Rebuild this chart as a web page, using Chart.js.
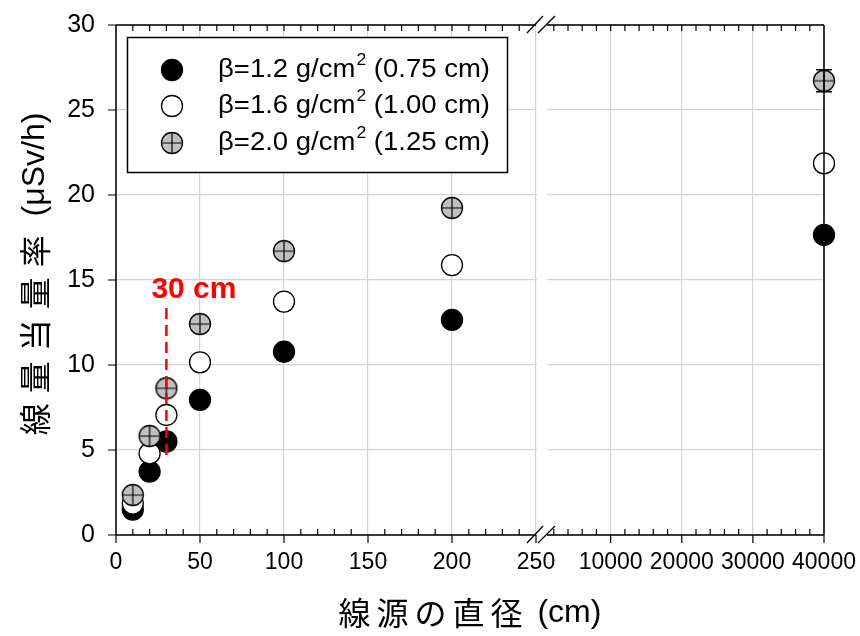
<!DOCTYPE html>
<html>
<head>
<meta charset="utf-8">
<script src="https://cdn.jsdelivr.net/npm/chart.js@4.4.1/dist/chart.umd.min.js"></script>
<style>
  html, body { margin: 0; padding: 0; background: #fff; }
  #wrap { width: 860px; height: 636px; }
</style>
</head>
<body>
<div id="wrap"><canvas id="chart"></canvas></div>
<script>
// source diameters (cm), left part of the broken axis
const diameters = [10, 20, 30, 50, 100, 200];
// right part of the broken axis
const farDiameters = [40000];

// dose equivalent rate (uSv/h)
const beta12 = [1.5, 3.73, 5.5, 7.95, 10.78, 12.65];
const beta12Far = [17.65];
const beta16 = [1.85, 4.8, 7.06, 10.16, 13.73, 15.88];
const beta16Far = [21.86];
const beta20 = [2.35, 5.82, 8.63, 12.41, 16.7, 19.24];
const beta20Far = [26.72];
const beta20FarErr = [0.65];

const nearTicks = [0, 50, 100, 150, 200, 250];
const farTicks = [10000, 20000, 30000, 40000];
const yTicks = [0, 5, 10, 15, 20, 25, 30];

const legendLabels = [
    ['β=1.2 g/cm', '2', ' (0.75 cm)'],
    ['β=1.6 g/cm', '2', ' (1.00 cm)'],
    ['β=2.0 g/cm', '2', ' (1.25 cm)']
];

const xTitleCjk = '線源の直径';
const xTitleRest = ' (cm)';
const yTitleCjk = '線量当量率';
const yTitleRest = ' (μSv/h)';
const noteLabel = '30 cm';
const noteX = 30;
const noteTop = 13.35;
const noteBottom = 4.4;
const noteTextY = 14.4;

const LATIN = "'Liberation Sans', Arial, sans-serif";
const CJK = "'Noto Sans CJK JP', 'Liberation Sans', sans-serif";
const R = 10.5;
const GRAY = '#c0c0c0';

function makeCrossMarker(r) {
    const c = document.createElement('canvas');
    const s = Math.ceil(r * 2 + 3);
    c.width = c.height = s;
    const g = c.getContext('2d');
    const m = s / 2;
    drawMarker(g, m, m, r, 'cross');
    return c;
}

function drawMarker(g, x, y, r, kind) {
    g.save();
    g.beginPath();
    g.arc(x, y, r, 0, Math.PI * 2);
    g.fillStyle = kind === 'black' ? '#000' : kind === 'white' ? '#fff' : GRAY;
    g.fill();
    g.lineWidth = 1.3;
    g.strokeStyle = '#000';
    g.stroke();
    if (kind === 'cross') {
        g.beginPath();
        g.moveTo(x - r, y); g.lineTo(x + r, y);
        g.moveTo(x, y - r); g.lineTo(x, y + r);
        g.lineWidth = 1.2;
        g.stroke();
    }
    g.restore();
}

const crossMarker = makeCrossMarker(R);

function pts(xs, ys) {
    return xs.map((x, i) => ({ x: x, y: ys[i] }));
}

function series(data, axis, kind, order) {
    const base = {
        data: data,
        xAxisID: axis,
        yAxisID: 'y',
        showLine: false,
        clip: false,
        order: order,
        pointRadius: R,
        borderWidth: 1.3,
        borderColor: '#000'
    };
    if (kind === 'cross') {
        base.pointStyle = crossMarker;
    } else {
        base.pointStyle = 'circle';
        base.backgroundColor = kind === 'black' ? '#000' : '#fff';
    }
    return base;
}

function spacedText(ctx, cjk, rest, x, y, cjkFont, restFont, spacing) {
    // draws centred at x
    ctx.font = cjkFont;
    ctx.letterSpacing = spacing + 'px';
    const w1 = ctx.measureText(cjk).width;
    ctx.font = restFont;
    ctx.letterSpacing = '0px';
    const w2 = ctx.measureText(rest).width;
    let start = x - (w1 + w2) / 2;
    ctx.textAlign = 'left';
    ctx.font = cjkFont;
    ctx.letterSpacing = spacing + 'px';
    ctx.fillText(cjk, start, y);
    ctx.font = restFont;
    ctx.letterSpacing = '0px';
    ctx.fillText(rest, start + w1, y);
}

const framePlugin = {
    id: 'frame',
    afterDatasetsDraw(chart) {
        const { ctx, chartArea: a, scales } = chart;
        const xs = scales.x, xf = scales.x2, ys = scales.y;
        const bx = xs.right;
        ctx.save();

        // error bar on far gray point
        ctx.strokeStyle = '#000';
        ctx.lineWidth = 1.5;
        farDiameters.forEach((d, i) => {
            const px = xf.getPixelForValue(d);
            const top = ys.getPixelForValue(beta20Far[i] + beta20FarErr[i]);
            const bot = ys.getPixelForValue(beta20Far[i] - beta20FarErr[i]);
            ctx.beginPath();
            ctx.moveTo(px - 8, top); ctx.lineTo(px + 8, top);
            ctx.moveTo(px - 8, bot); ctx.lineTo(px + 8, bot);
            ctx.stroke();
        });

        // break strip
        ctx.fillStyle = '#fff';
        ctx.fillRect(bx + 1, a.top - 2, 10, a.bottom - a.top + 4);

        // frame
        ctx.lineWidth = 1.5;
        ctx.strokeStyle = '#000';
        ctx.beginPath();
        ctx.moveTo(a.left, a.top); ctx.lineTo(a.left, a.bottom);
        ctx.moveTo(a.right, a.top); ctx.lineTo(a.right, a.bottom);
        ctx.moveTo(a.left, a.top); ctx.lineTo(bx, a.top);
        ctx.moveTo(bx + 11, a.top); ctx.lineTo(a.right, a.top);
        ctx.moveTo(a.left, a.bottom); ctx.lineTo(bx, a.bottom);
        ctx.moveTo(bx + 11, a.bottom); ctx.lineTo(a.right, a.bottom);
        ctx.stroke();

        // ticks
        ctx.lineWidth = 1.2;
        ctx.beginPath();
        yTicks.forEach(v => {
            const py = ys.getPixelForValue(v);
            ctx.moveTo(a.left - 8, py); ctx.lineTo(a.left, py);
        });
        nearTicks.forEach(v => {
            const px = xs.getPixelForValue(v);
            ctx.moveTo(px, a.bottom); ctx.lineTo(px, a.bottom + 8);
        });
        farTicks.forEach(v => {
            const px = xf.getPixelForValue(v);
            ctx.moveTo(px, a.bottom); ctx.lineTo(px, a.bottom + 8);
        });
        for (let v = 10; v < 250; v += 10) {
            const px = xs.getPixelForValue(v);
            if (v % 50 !== 0) { ctx.moveTo(px, a.bottom); ctx.lineTo(px, a.bottom - 6); }
            ctx.moveTo(px, a.top); ctx.lineTo(px, a.top + 6);
        }
        for (let v = 2000; v < 40000; v += 2000) {
            const px = xf.getPixelForValue(v);
            if (v % 10000 !== 0) { ctx.moveTo(px, a.bottom); ctx.lineTo(px, a.bottom - 6); }
            ctx.moveTo(px, a.top); ctx.lineTo(px, a.top + 6);
        }
        ctx.stroke();

        // break marks
        ctx.lineWidth = 1.3;
        ctx.beginPath();
        [a.top, a.bottom].forEach(y => {
            ctx.moveTo(bx - 9, y + 8); ctx.lineTo(bx + 7, y - 9);
            ctx.moveTo(bx + 2, y + 8); ctx.lineTo(bx + 19, y - 9);
        });
        ctx.stroke();

        // 30 cm note
        const nx = xs.getPixelForValue(noteX);
        ctx.strokeStyle = '#ff0000';
        ctx.lineWidth = 2.5;
        ctx.setLineDash([11, 6]);
        ctx.beginPath();
        ctx.moveTo(nx, ys.getPixelForValue(noteTop));
        ctx.lineTo(nx, ys.getPixelForValue(noteBottom));
        ctx.stroke();
        ctx.setLineDash([]);
        ctx.fillStyle = '#ff0000';
        ctx.font = 'bold 30px ' + LATIN;
        ctx.textAlign = 'left';
        ctx.textBaseline = 'middle';
        ctx.fillText(noteLabel, nx - 15, ys.getPixelForValue(noteTextY));

        // legend
        ctx.fillStyle = '#fff';
        ctx.fillRect(127, 37, 381, 136);
        ctx.strokeStyle = '#000';
        ctx.lineWidth = 1.5;
        ctx.strokeRect(127.5, 37.5, 380, 135);
        const kinds = ['black', 'white', 'cross'];
        const rowY = [70, 106, 143];
        legendLabels.forEach((parts, i) => {
            drawMarker(ctx, 172, rowY[i], R, kinds[i]);
            ctx.save();
            ctx.translate(218, rowY[i]);
            ctx.scale(1.1, 1);
            ctx.fillStyle = '#000';
            ctx.textBaseline = 'middle';
            ctx.textAlign = 'left';
            ctx.font = '25px ' + LATIN;
            ctx.fillText(parts[0], 0, 0);
            let w = ctx.measureText(parts[0]).width;
            ctx.font = '16px ' + LATIN;
            ctx.fillText(parts[1], w + 1, -9);
            w += ctx.measureText(parts[1]).width + 1;
            ctx.font = '25px ' + LATIN;
            ctx.fillText(parts[2], w, 0);
            ctx.restore();
        });

        // axis titles
        ctx.fillStyle = '#000';
        ctx.textBaseline = 'middle';
        spacedText(ctx, xTitleCjk, xTitleRest, (a.left + a.right) / 2, 613,
            '32px ' + CJK, '32px ' + LATIN, 6);
        ctx.save();
        ctx.translate(35, 274);
        ctx.rotate(-Math.PI / 2);
        spacedText(ctx, yTitleCjk, yTitleRest, 0, 0,
            '32px ' + CJK, '32px ' + LATIN, 10);
        ctx.restore();

        ctx.restore();
    }
};

const tickFont = size => ({ family: LATIN, size: size });

// fixed box sizes so the plot area lands where the original has it
function fitX(s) {
    s.height = 101;
    s.paddingLeft = 0;
    s.paddingRight = 0;
}
function fitY(s) {
    s.width = 116;
    s.paddingTop = 0;
    s.paddingBottom = 0;
}

const ctx = document.getElementById('chart').getContext('2d');
new Chart(ctx, {
    type: 'scatter',
    data: {
        datasets: [
            series(pts(diameters, beta12), 'x', 'black', 3),
            series(pts(farDiameters, beta12Far), 'x2', 'black', 3),
            series(pts(diameters, beta16), 'x', 'white', 2),
            series(pts(farDiameters, beta16Far), 'x2', 'white', 2),
            series(pts(diameters, beta20), 'x', 'cross', 1),
            series(pts(farDiameters, beta20Far), 'x2', 'cross', 1)
        ]
    },
    options: {
        responsive: true,
        maintainAspectRatio: false,
        animation: false,
        events: [],
        layout: { padding: { top: 25, right: 36, left: 0, bottom: 0 } },
        plugins: { legend: { display: false }, tooltip: { enabled: false } },
        scales: {
            x: {
                type: 'linear',
                position: 'bottom',
                stack: 'bx',
                stackWeight: 420,
                min: 0,
                max: 250,
                afterBuildTicks: s => { s.ticks = nearTicks.map(v => ({ value: v })); },
                afterFit: fitX,
                grid: { color: '#d4d4d4', lineWidth: 1.2, drawTicks: false },
                border: { display: false },
                ticks: { padding: 14, color: '#000', autoSkip: false, maxRotation: 0,
                    callback: v => String(v), font: tickFont(23) }
            },
            x2: {
                type: 'linear',
                position: 'bottom',
                stack: 'bx',
                stackWeight: 288,
                min: -500,
                max: 40000,
                afterBuildTicks: s => { s.ticks = farTicks.map(v => ({ value: v })); },
                afterFit: fitX,
                grid: { color: '#d4d4d4', lineWidth: 1.2, drawTicks: false },
                border: { display: false },
                ticks: { padding: 14, color: '#000', autoSkip: false, maxRotation: 0,
                    callback: v => String(v), font: tickFont(23) }
            },
            y: {
                type: 'linear',
                position: 'left',
                min: 0,
                max: 30,
                afterBuildTicks: s => { s.ticks = yTicks.map(v => ({ value: v })); },
                afterFit: fitY,
                grid: { color: '#d4d4d4', lineWidth: 1.2, drawTicks: false },
                border: { display: false },
                ticks: { padding: 21, color: '#000', autoSkip: false,
                    callback: v => String(v), font: tickFont(25) }
            }
        }
    },
    plugins: [framePlugin]
});
</script>
</body>
</html>
